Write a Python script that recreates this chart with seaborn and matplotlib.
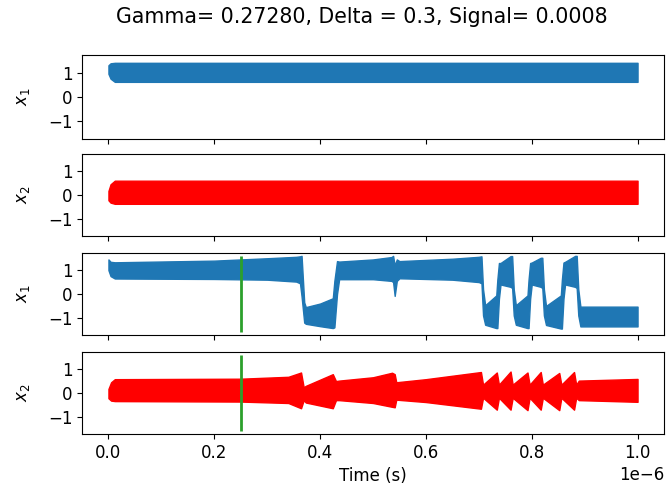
import numpy as np
import pandas as pd
import matplotlib
matplotlib.use("Agg")
import matplotlib.pyplot as plt
import seaborn as sns

TITLE = "Gamma= 0.27280, Delta = 0.3, Signal= 0.0008"
XLABEL = "Time (s)"
YLABELS = ["$x_1$", "$x_2$", "$x_1$", "$x_2$"]
MARK_T = 0.25e-6  # green marker time (s)

# Envelopes (upper / lower extent of the fast oscillation), time in microseconds
t_a = [0.000, 0.004, 0.012, 1.000]
x1a_hi = [1.30, 1.38, 1.40, 1.40]
x1a_lo = [0.95, 0.75, 0.62, 0.62]
x2a_hi = [0.17, 0.45, 0.60, 0.60]
x2a_lo = [-0.22, -0.32, -0.37, -0.37]

t_b1 = [0.000, 0.004, 0.012, 0.200, 0.300, 0.355, 0.362, 0.365, 0.370, 0.373,
        0.400, 0.424, 0.427, 0.432, 0.436, 0.500, 0.535, 0.538, 0.541, 0.545,
        0.550, 0.650, 0.700, 0.705, 0.708, 0.712, 0.733, 0.735, 0.738, 0.741,
        0.760, 0.763, 0.766, 0.770, 0.792, 0.794, 0.797, 0.800, 0.817, 0.820,
        0.823, 0.827, 0.855, 0.857, 0.860, 0.863, 0.882, 0.885, 0.888, 0.892,
        1.000]
x1b_hi = [1.45, 1.35, 1.33, 1.40, 1.50, 1.56, 1.58, 1.60, -0.35, -0.55,
          -0.40, -0.18, 0.55, 1.38, 1.36, 1.45, 1.55, 1.60, 1.20, 1.45,
          1.38, 1.48, 1.56, 1.58, 0.20, -0.47, -0.06, 0.60, 1.30, 1.30,
          1.59, 1.59, 0.20, -0.47, -0.06, 0.60, 1.30, 1.32, 1.52, 1.52,
          0.20, -0.50, -0.06, 0.60, 1.32, 1.35, 1.60, 1.60, 0.20, -0.53,
          -0.53]
x1b_lo = [1.00, 0.75, 0.65, 0.63, 0.60, 0.52, 0.45, -0.10, -1.20, -1.25,
          -1.35, -1.43, -1.40, 0.00, 0.62, 0.62, 0.55, 0.50, -0.08, 0.55,
          0.66, 0.60, 0.50, 0.45, -0.90, -1.29, -1.43, -1.43, -0.20, 0.40,
          0.30, 0.25, -0.90, -1.29, -1.43, -1.43, -0.20, 0.40, 0.30, 0.25,
          -0.90, -1.30, -1.45, -1.45, -0.20, 0.40, 0.30, 0.25, -0.90, -1.36,
          -1.36]

t_b2 = [0.000, 0.005, 0.012, 0.250, 0.340, 0.364, 0.369, 0.373, 0.424, 0.430,
        0.436, 0.500, 0.536, 0.541, 0.544, 0.600, 0.704, 0.708, 0.734, 0.738,
        0.760, 0.764, 0.792, 0.796, 0.817, 0.821, 0.852, 0.856, 0.880, 0.884,
        0.889, 1.000]
x2b_hi = [0.17, 0.45, 0.58, 0.60, 0.68, 0.86, 0.24, 0.30, 0.79, 0.50,
          0.52, 0.66, 0.85, 0.79, 0.45, 0.58, 0.88, 0.35, 0.86, 0.35,
          0.90, 0.35, 0.86, 0.35, 0.88, 0.35, 0.84, 0.35, 0.88, 0.35,
          0.52, 0.59]
x2b_lo = [-0.22, -0.32, -0.34, -0.36, -0.42, -0.64, -0.30, -0.40, -0.64, -0.30,
          -0.30, -0.42, -0.58, -0.60, -0.28, -0.38, -0.66, -0.20, -0.70, -0.20,
          -0.70, -0.20, -0.72, -0.20, -0.70, -0.20, -0.72, -0.20, -0.70, -0.20,
          -0.30, -0.37]

BLUE = "#1f77b4"
RED = "#ff0000"
GREEN = "#2ca02c"

plt.rcParams["font.size"] = 12


def band_frame(t, hi, lo):
    t = np.asarray(t) * 1e-6
    return pd.DataFrame({"t": np.concatenate([t, t]),
                         "x": np.concatenate([hi, lo])})


panels = [
    (band_frame(t_a, x1a_hi, x1a_lo), BLUE, False),
    (band_frame(t_a, x2a_hi, x2a_lo), RED, False),
    (band_frame(t_b1, x1b_hi, x1b_lo), BLUE, True),
    (band_frame(t_b2, x2b_hi, x2b_lo), RED, True),
]

fig = plt.figure(figsize=(6.72, 4.93), dpi=100)
tops = [55, 154, 253, 352]
bots = [139, 236, 335, 434]
left, right = 82, 664
axes = []
for i, (top, bot) in enumerate(zip(tops, bots)):
    rect = [left / 672, 1 - bot / 493, (right - left) / 672, (bot - top) / 493]
    ax = fig.add_axes(rect, sharex=axes[0] if axes else None)
    axes.append(ax)

for ax, (df, col, mark), lab in zip(axes, panels, YLABELS):
    sns.lineplot(data=df, x="t", y="x", estimator="mean", errorbar=("pi", 100),
                 color=col, linewidth=0.0, ax=ax,
                 err_kws={"alpha": 1.0, "linewidth": 1.0, "edgecolor": col})
    if mark:
        ax.vlines(MARK_T, -1.58, 1.58, color=GREEN, linewidth=2, zorder=5)
    ax.set_ylim(-1.72, 1.72)
    ax.set_yticks([-1, 0, 1])
    ax.set_ylabel(lab, labelpad=11)
    ax.set_xlabel("")

axes[0].set_xlim(-0.05e-6, 1.05e-6)
axes[0].set_xticks(np.arange(0, 1.01, 0.2) * 1e-6)
for ax in axes[:-1]:
    ax.tick_params(labelbottom=False)
axes[-1].set_xlabel(XLABEL)

fig.suptitle(TITLE, x=0.539, y=0.985, fontsize=14.8)
fig.savefig("out.png", dpi=100)
